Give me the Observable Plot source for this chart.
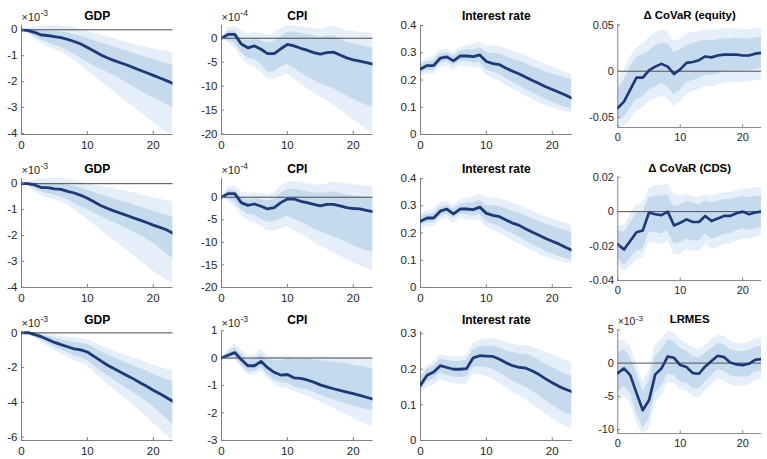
<!DOCTYPE html>
<html><head><meta charset="utf-8">
<script src="https://cdn.jsdelivr.net/npm/d3@7"></script>
<script src="https://cdn.jsdelivr.net/npm/@observablehq/plot@0.6"></script>
<style>
html,body{margin:0;padding:0;background:#fff;overflow:hidden}
#fig{position:relative;width:767px;height:459px;overflow:hidden;background:#fff}
.panel{position:absolute;line-height:0}
.panel svg{display:block;overflow:visible;background:transparent}
</style></head><body><div id="fig"></div>
<script>
const horizon = [0,1,2,3,4,5,6,7,8,9,10,11,12,13,14,15,16,17,18,19,20,21,22,23];
const xTicks = [0,10,20];

// Row 1 — GDP (x10^-3)
const gdp1_mid   = [0,-0.03,-0.1,-0.2,-0.22,-0.26,-0.3,-0.37,-0.45,-0.55,-0.68,-0.82,-0.96,-1.08,-1.18,-1.27,-1.36,-1.46,-1.56,-1.66,-1.76,-1.86,-1.96,-2.07];
const gdp1_inHi  = [0,0,-0.02,-0.05,-0.05,-0.06,-0.08,-0.12,-0.18,-0.25,-0.33,-0.42,-0.5,-0.58,-0.66,-0.74,-0.82,-0.9,-0.98,-1.06,-1.14,-1.22,-1.3,-1.38];
const gdp1_inLo  = [0,-0.1,-0.25,-0.4,-0.5,-0.6,-0.68,-0.8,-0.95,-1.1,-1.25,-1.4,-1.52,-1.64,-1.76,-1.9,-2.05,-2.2,-2.35,-2.5,-2.62,-2.75,-2.88,-3.0];
const gdp1_outHi = [0,0.05,0.1,0.14,0.15,0.16,0.15,0.12,0.08,0.02,-0.05,-0.12,-0.2,-0.28,-0.35,-0.42,-0.5,-0.56,-0.62,-0.68,-0.74,-0.8,-0.84,-0.88];
const gdp1_outLo = [0,-0.15,-0.35,-0.52,-0.65,-0.75,-0.85,-1.0,-1.18,-1.38,-1.58,-1.78,-1.98,-2.18,-2.38,-2.58,-2.78,-2.98,-3.18,-3.38,-3.58,-3.78,-3.95,-4.04];

// Row 1 — CPI (x10^-4)
const cpi1_mid   = [0,0.8,0.8,-1.2,-2.0,-1.6,-2.3,-3.2,-3.2,-2.2,-1.3,-1.6,-2.1,-2.5,-3.0,-3.3,-3.0,-2.9,-3.5,-4.1,-4.5,-4.8,-5.1,-5.4];
const cpi1_inHi  = [0,1.5,1.5,0,-0.5,-0.2,-0.5,-1.0,-0.7,0.3,1.2,1.3,1.0,0.8,0.5,0.2,0.4,0.5,-0.2,-0.8,-1.2,-1.5,-1.8,-2.0];
const cpi1_inLo  = [0,-0.5,-1,-3,-4.2,-4.5,-5.5,-7,-7,-6,-5.5,-6.3,-7.2,-8,-8.8,-9.5,-10,-10.5,-11.3,-12,-12.8,-13.4,-14,-14.4];
const cpi1_outHi = [0,2.2,2.5,1.5,1.0,1.2,1.0,0.5,1.0,2.0,2.6,2.6,2.4,2.2,2.0,1.8,2.2,2.6,2.0,1.6,1.4,1.2,1.2,1.0];
const cpi1_outLo = [0,-1,-2,-4,-5.5,-6,-7,-8.5,-8.5,-8,-7.5,-8.5,-9.5,-10.5,-11.5,-12.3,-13,-14,-15,-16,-17,-18,-19,-20];

// Row 1 — Interest rate
const ir1_mid   = [0.24,0.253,0.253,0.28,0.285,0.27,0.288,0.288,0.286,0.292,0.268,0.26,0.256,0.243,0.232,0.222,0.21,0.198,0.187,0.175,0.165,0.155,0.145,0.133];
const ir1_inHi  = [0.255,0.268,0.27,0.295,0.3,0.288,0.305,0.31,0.31,0.318,0.3,0.298,0.295,0.285,0.277,0.27,0.26,0.25,0.24,0.23,0.222,0.215,0.208,0.2];
const ir1_inLo  = [0.225,0.235,0.235,0.26,0.268,0.252,0.27,0.268,0.262,0.265,0.238,0.228,0.22,0.205,0.192,0.18,0.165,0.152,0.14,0.128,0.118,0.108,0.1,0.093];
const ir1_outHi = [0.265,0.28,0.285,0.308,0.315,0.3,0.318,0.325,0.33,0.34,0.325,0.325,0.325,0.315,0.305,0.298,0.288,0.278,0.268,0.258,0.248,0.238,0.228,0.22];
const ir1_outLo = [0.215,0.222,0.222,0.245,0.252,0.235,0.252,0.25,0.245,0.245,0.218,0.205,0.195,0.18,0.168,0.155,0.14,0.128,0.117,0.106,0.098,0.09,0.085,0.08];

// Row 1 — Delta CoVaR (equity)
const coeq_mid   = [-0.04,-0.033,-0.02,-0.007,-0.007,0.001,0.005,0.008,0.005,-0.003,0.002,0.009,0.01,0.012,0.016,0.015,0.017,0.018,0.018,0.018,0.017,0.017,0.019,0.02];
const coeq_inHi  = [-0.02,-0.01,0.005,0.015,0.018,0.022,0.028,0.03,0.03,0.02,0.023,0.028,0.03,0.032,0.034,0.033,0.034,0.035,0.035,0.036,0.035,0.035,0.036,0.037];
const coeq_inLo  = [-0.053,-0.05,-0.04,-0.03,-0.028,-0.02,-0.017,-0.013,-0.017,-0.025,-0.02,-0.012,-0.01,-0.008,-0.004,-0.005,-0.003,-0.001,0,0,0,0,0.002,0.003];
const coeq_outHi = [-0.01,0.002,0.015,0.025,0.03,0.036,0.042,0.045,0.043,0.032,0.035,0.04,0.042,0.043,0.045,0.044,0.045,0.046,0.046,0.046,0.045,0.045,0.046,0.047];
const coeq_outLo = [-0.061,-0.06,-0.053,-0.043,-0.04,-0.033,-0.03,-0.027,-0.03,-0.038,-0.033,-0.025,-0.022,-0.02,-0.016,-0.017,-0.015,-0.013,-0.012,-0.012,-0.012,-0.012,-0.01,-0.009];

// Row 2 — GDP (x10^-3)
const gdp2_mid   = [0,0,-0.05,-0.15,-0.15,-0.2,-0.22,-0.3,-0.36,-0.45,-0.56,-0.7,-0.84,-0.95,-1.05,-1.14,-1.23,-1.32,-1.41,-1.5,-1.6,-1.69,-1.78,-1.92];
const gdp2_inHi  = [0,0.02,0.03,0,0,-0.02,-0.02,-0.05,-0.1,-0.17,-0.25,-0.33,-0.42,-0.5,-0.58,-0.66,-0.74,-0.82,-0.9,-0.98,-1.06,-1.14,-1.22,-1.3];
const gdp2_inLo  = [0,-0.08,-0.2,-0.32,-0.38,-0.45,-0.52,-0.62,-0.75,-0.88,-1.0,-1.12,-1.25,-1.38,-1.5,-1.62,-1.75,-1.88,-2.0,-2.15,-2.3,-2.5,-2.7,-2.9];
const gdp2_outHi = [0,0.08,0.15,0.18,0.2,0.2,0.2,0.18,0.12,0.06,0,-0.05,-0.1,-0.15,-0.2,-0.25,-0.3,-0.35,-0.42,-0.48,-0.54,-0.6,-0.65,-0.7];
const gdp2_outLo = [0,-0.12,-0.3,-0.45,-0.55,-0.62,-0.7,-0.85,-1.0,-1.18,-1.38,-1.58,-1.78,-1.98,-2.18,-2.38,-2.58,-2.78,-2.98,-3.18,-3.38,-3.55,-3.72,-3.85];

// Row 2 — CPI (x10^-4)
const cpi2_mid   = [0,0.8,0.8,-1.2,-1.8,-1.5,-2.0,-2.6,-2.3,-1.2,-0.4,-0.4,-0.9,-1.2,-1.6,-1.9,-1.6,-1.6,-1.9,-2.3,-2.5,-2.6,-2.9,-3.2];
const cpi2_inHi  = [0,1.5,1.5,0,-0.5,-0.3,-0.5,-0.8,-0.5,0.8,1.7,1.8,1.5,1.2,1.0,0.8,1.0,1.2,0.8,0.5,0.3,0.1,0,-0.1];
const cpi2_inLo  = [0,-0.5,-1,-2.8,-3.8,-4,-4.8,-5.5,-5.5,-4.8,-4.2,-4.8,-5.5,-6.2,-7,-7.7,-8.2,-8.7,-9.3,-10,-10.7,-11.3,-11.8,-12.2];
const cpi2_outHi = [0,2.2,2.5,1.2,0.8,1.0,0.8,0.5,1.0,2.5,3.3,3.5,3.3,3.0,2.8,2.6,3.0,3.4,3.2,3.0,2.8,2.6,2.5,2.3];
const cpi2_outLo = [0,-1,-2,-4,-5.2,-5.5,-6.5,-7.5,-7.5,-7,-6.5,-7.3,-8.2,-9,-10,-10.8,-11.5,-12.3,-13,-13.8,-14.5,-15.2,-15.8,-16.3];

// Row 2 — Interest rate
const ir2_mid   = [0.243,0.255,0.255,0.28,0.288,0.27,0.288,0.288,0.286,0.295,0.272,0.265,0.26,0.248,0.236,0.228,0.215,0.203,0.192,0.18,0.17,0.16,0.148,0.137];
const ir2_inHi  = [0.258,0.27,0.272,0.295,0.302,0.288,0.305,0.31,0.31,0.32,0.302,0.3,0.297,0.288,0.28,0.273,0.263,0.253,0.243,0.233,0.225,0.217,0.21,0.202];
const ir2_inLo  = [0.228,0.238,0.238,0.262,0.27,0.253,0.27,0.268,0.263,0.268,0.242,0.232,0.224,0.21,0.197,0.185,0.17,0.157,0.145,0.133,0.123,0.114,0.106,0.1];
const ir2_outHi = [0.268,0.282,0.287,0.31,0.317,0.302,0.32,0.327,0.332,0.342,0.328,0.328,0.327,0.318,0.308,0.3,0.29,0.28,0.27,0.26,0.252,0.244,0.237,0.231];
const ir2_outLo = [0.215,0.222,0.222,0.246,0.254,0.236,0.253,0.25,0.246,0.247,0.222,0.21,0.2,0.185,0.172,0.16,0.146,0.134,0.122,0.112,0.104,0.097,0.091,0.086];

// Row 2 — Delta CoVaR (CDS)
const cocds_mid   = [-0.019,-0.022,-0.017,-0.012,-0.011,-0.0005,-0.0015,-0.002,0,-0.008,-0.0065,-0.0045,-0.006,-0.006,-0.0025,-0.0055,-0.004,-0.0025,-0.0025,-0.001,0,-0.0015,-0.0005,0];
const cocds_inHi  = [-0.011,-0.012,-0.007,-0.001,0,0.008,0.009,0.009,0.01,0.003,0.004,0.006,0.005,0.004,0.006,0.005,0.006,0.007,0.007,0.008,0.009,0.008,0.009,0.009];
const cocds_inLo  = [-0.027,-0.031,-0.027,-0.023,-0.022,-0.012,-0.012,-0.013,-0.011,-0.019,-0.018,-0.016,-0.017,-0.017,-0.013,-0.016,-0.015,-0.013,-0.013,-0.011,-0.01,-0.011,-0.01,-0.009];
const cocds_outHi = [-0.008,-0.008,-0.002,0.004,0.005,0.013,0.015,0.015,0.016,0.01,0.009,0.01,0.009,0.008,0.01,0.009,0.01,0.011,0.011,0.012,0.013,0.013,0.014,0.014];
const cocds_outLo = [-0.031,-0.035,-0.032,-0.028,-0.027,-0.018,-0.018,-0.019,-0.017,-0.025,-0.025,-0.022,-0.023,-0.023,-0.019,-0.022,-0.021,-0.019,-0.019,-0.017,-0.016,-0.016,-0.015,-0.014];

// Row 3 — GDP (x10^-3)
const gdp3_mid   = [0,0.02,-0.1,-0.22,-0.38,-0.55,-0.68,-0.8,-0.92,-0.98,-1.1,-1.35,-1.6,-1.85,-2.05,-2.25,-2.45,-2.65,-2.87,-3.08,-3.3,-3.5,-3.72,-3.95];
const gdp3_inHi  = [0,0.05,0,-0.1,-0.2,-0.3,-0.4,-0.48,-0.55,-0.58,-0.65,-0.85,-1.05,-1.25,-1.42,-1.58,-1.75,-1.9,-2.05,-2.2,-2.38,-2.52,-2.68,-2.82];
const gdp3_inLo  = [0,-0.02,-0.22,-0.4,-0.6,-0.8,-0.98,-1.15,-1.32,-1.42,-1.58,-1.88,-2.18,-2.48,-2.72,-2.96,-3.2,-3.45,-3.7,-3.95,-4.25,-4.6,-4.95,-5.3];
const gdp3_outHi = [0,0.08,0.05,0,-0.05,-0.12,-0.2,-0.25,-0.3,-0.32,-0.38,-0.55,-0.72,-0.9,-1.05,-1.2,-1.32,-1.45,-1.58,-1.72,-1.86,-2.0,-2.1,-2.2];
const gdp3_outLo = [0,-0.05,-0.3,-0.55,-0.78,-1.0,-1.2,-1.4,-1.6,-1.72,-1.9,-2.25,-2.6,-2.95,-3.25,-3.55,-3.85,-4.15,-4.5,-4.85,-5.2,-5.55,-5.9,-6.2];

// Row 3 — CPI (x10^-3)
const cpi3_mid   = [0,0.1,0.2,-0.05,-0.28,-0.28,-0.12,-0.35,-0.52,-0.62,-0.6,-0.72,-0.74,-0.8,-0.88,-0.98,-1.05,-1.12,-1.18,-1.24,-1.3,-1.36,-1.43,-1.5];
const cpi3_inHi  = [0,0.2,0.38,0.15,-0.05,-0.05,0.12,-0.05,-0.1,-0.1,-0.05,-0.07,-0.05,-0.05,-0.08,-0.1,-0.12,-0.15,-0.18,-0.2,-0.25,-0.3,-0.34,-0.38];
const cpi3_inLo  = [0,0,0.05,-0.25,-0.5,-0.5,-0.35,-0.6,-0.8,-0.9,-0.92,-1.05,-1.1,-1.15,-1.25,-1.35,-1.45,-1.52,-1.6,-1.68,-1.75,-1.82,-1.87,-1.92];
const cpi3_outHi = [0,0.3,0.5,0.3,0.1,0.1,0.3,0.1,0.05,0.05,0.1,0.05,0.05,0.05,0.05,0.05,0.05,0.04,0.03,0.03,0.02,0.01,0,0];
const cpi3_outLo = [0,-0.08,-0.05,-0.35,-0.62,-0.62,-0.5,-0.75,-0.95,-1.08,-1.1,-1.22,-1.3,-1.38,-1.48,-1.6,-1.72,-1.84,-1.96,-2.08,-2.2,-2.32,-2.43,-2.52];

// Row 3 — Interest rate
const ir3_mid   = [0.155,0.183,0.192,0.21,0.205,0.2,0.2,0.202,0.232,0.238,0.237,0.236,0.228,0.218,0.21,0.205,0.203,0.195,0.185,0.173,0.162,0.152,0.144,0.137];
const ir3_inHi  = [0.175,0.2,0.21,0.228,0.225,0.222,0.222,0.225,0.255,0.263,0.265,0.265,0.26,0.252,0.247,0.243,0.242,0.235,0.225,0.215,0.205,0.195,0.187,0.18];
const ir3_inLo  = [0.14,0.165,0.172,0.19,0.183,0.178,0.177,0.178,0.205,0.207,0.205,0.2,0.19,0.178,0.167,0.158,0.15,0.138,0.125,0.112,0.1,0.088,0.078,0.07];
const ir3_outHi = [0.182,0.21,0.22,0.24,0.238,0.235,0.235,0.24,0.272,0.282,0.285,0.285,0.282,0.275,0.27,0.267,0.267,0.262,0.255,0.247,0.24,0.232,0.225,0.22];
const ir3_outLo = [0.13,0.15,0.155,0.17,0.165,0.16,0.158,0.158,0.185,0.185,0.18,0.172,0.16,0.148,0.135,0.125,0.115,0.1,0.088,0.075,0.062,0.05,0.04,0.033];

// Row 3 — LRMES (x10^-3)
const lrmes_mid   = [-1.5,-0.8,-1.8,-4.5,-7.1,-5.6,-1.7,-0.8,1.0,0.8,-0.3,-0.6,-1.5,-1.6,-0.5,0.3,1.1,0.9,0.1,-0.2,-0.3,-0.1,0.5,0.6];
const lrmes_inHi  = [1.5,2.0,1.0,-1.5,-4.2,-2.8,1.0,2.0,3.5,3.2,2.2,1.8,1.0,0.8,1.5,2.2,3.0,2.8,2.0,1.8,1.7,1.9,2.4,2.5];
const lrmes_inLo  = [-4.5,-3.5,-4.5,-7.5,-9.8,-8.5,-4.5,-3.5,-1.7,-1.8,-2.8,-3.0,-3.8,-3.9,-2.8,-1.9,-1.0,-1.2,-1.9,-2.1,-2.1,-2.0,-1.3,-1.2];
const lrmes_outHi = [3.2,3.5,2.5,0,-2.8,-1.2,2.8,3.5,4.8,4.5,3.5,3.0,2.3,2.0,2.7,3.5,4.2,4.0,3.3,3.0,2.9,3.1,3.6,3.7];
const lrmes_outLo = [-6,-5,-6,-9,-10.6,-10,-6,-5,-3,-3,-4,-4.2,-5,-5.2,-4.2,-3.3,-2.4,-2.6,-3.3,-3.5,-3.4,-3.3,-2.6,-2.4];

// Titles, exponent labels, y-axis domains and ticks
const titles = ["GDP","CPI","Interest rate","\u0394 CoVaR (equity)","GDP","CPI","Interest rate","\u0394 CoVaR (CDS)","GDP","CPI","Interest rate","LRMES"];
const exponents = ["-3","-4",null,null,"-3","-4",null,null,"-3","-3",null,"-3"];
const yDomains = [[-4.04,0.166],[-20.1,2.66],[0,0.4],[-0.061,0.051],
                  [-4.01,0.2],[-20,4.15],[0,0.4],[-0.04,0.02],
                  [-6.2,0.08],[-3.01,0.97],[0,0.306],[-10.6,4.96]];
const yTicks = [[-4,-3,-2,-1,0],[-20,-15,-10,-5,0],[0,0.1,0.2,0.3,0.4],[-0.05,0,0.05],
                [-4,-3,-2,-1,0],[-20,-15,-10,-5,0],[0,0.1,0.2,0.3,0.4],[-0.04,-0.02,0,0.02],
                [-6,-4,-2,0],[-3,-2,-1,0,1],[0,0.1,0.2,0.3],[-10,-5,0,5]];
const series = [
  [gdp1_mid,gdp1_inLo,gdp1_inHi,gdp1_outLo,gdp1_outHi],
  [cpi1_mid,cpi1_inLo,cpi1_inHi,cpi1_outLo,cpi1_outHi],
  [ir1_mid,ir1_inLo,ir1_inHi,ir1_outLo,ir1_outHi],
  [coeq_mid,coeq_inLo,coeq_inHi,coeq_outLo,coeq_outHi],
  [gdp2_mid,gdp2_inLo,gdp2_inHi,gdp2_outLo,gdp2_outHi],
  [cpi2_mid,cpi2_inLo,cpi2_inHi,cpi2_outLo,cpi2_outHi],
  [ir2_mid,ir2_inLo,ir2_inHi,ir2_outLo,ir2_outHi],
  [cocds_mid,cocds_inLo,cocds_inHi,cocds_outLo,cocds_outHi],
  [gdp3_mid,gdp3_inLo,gdp3_inHi,gdp3_outLo,gdp3_outHi],
  [cpi3_mid,cpi3_inLo,cpi3_inHi,cpi3_outLo,cpi3_outHi],
  [ir3_mid,ir3_inLo,ir3_inHi,ir3_outLo,ir3_outHi],
  [lrmes_mid,lrmes_inLo,lrmes_inHi,lrmes_outLo,lrmes_outHi]
];

// Layout (pixels)
const colLeft = [21, 220.7, 420, 619.3];
const rowTop = [25, 178, 331];
const rowBottom = [134, 287, 440];
const titleOffset = [-9.5, -9.7, -11];
const plotW = 151.5;
const mL = 34, mR = 6, mT = 26, mB = 22;

const FONT = '"Liberation Sans", Arial, Helvetica, sans-serif';
const C_OUT = "#e5eff9", C_IN = "#c6daee", C_LINE = "#1c3a78", C_AXIS = "#808080", C_ZERO = "#4a4a4a", C_TEXT = "#262626";

const fig = document.getElementById("fig");
const fmt = d => String(d);
const noLabel = () => "";

series.forEach((s, i) => {
  const r = Math.floor(i / 4), c = i % 4;
  const [mid, inLo, inHi, outLo, outHi] = s;
  const rows = horizon.map((h, k) => ({h, mid: mid[k], inLo: inLo[k], inHi: inHi[k], outLo: outLo[k], outHi: outHi[k]}));
  const plotH = rowBottom[r] - rowTop[r];
  const dom = yDomains[i];
  const marks = [
    Plot.areaY(rows, {x: "h", y1: "outLo", y2: "outHi", fill: C_OUT, clip: true}),
    Plot.areaY(rows, {x: "h", y1: "inLo", y2: "inHi", fill: C_IN, clip: true}),
    Plot.ruleY([0], {stroke: C_ZERO, strokeWidth: 1}),
    Plot.ruleX([0], {stroke: C_AXIS, strokeWidth: 1}),
    Plot.ruleY([dom[0]], {stroke: C_AXIS, strokeWidth: 1}),
    Plot.lineY(rows, {x: "h", y: "mid", stroke: C_LINE, strokeWidth: 2.8, strokeLinejoin: "round", clip: true}),
    // inward tick marks (no labels)
    Plot.axisY(yTicks[i], {label: null, tickSize: -3, tickFormat: noLabel, stroke: C_AXIS}),
    Plot.axisX(xTicks, {label: null, tickSize: -3, tickFormat: noLabel, stroke: C_AXIS}),
    // tick labels placed through the scales
    Plot.text(yTicks[i], {y: d => d, text: fmt, frameAnchor: "left", textAnchor: "end", lineAnchor: "middle", dx: -4, fontSize: 11.5, fill: C_TEXT}),
    Plot.text(xTicks, {x: d => d, text: fmt, frameAnchor: "bottom", textAnchor: "middle", lineAnchor: "middle", dy: 11, fontSize: 11.5, fill: C_TEXT}),
    Plot.text([titles[i]], {text: d => d, frameAnchor: "top", lineAnchor: "middle", dy: titleOffset[r], fontWeight: "bold", fontSize: 12, fill: "#000"})
  ];
  if (exponents[i]) {
    marks.push(Plot.text(["\u00d710"], {text: d => d, frameAnchor: "top-left", lineAnchor: "middle", textAnchor: "start", dx: 0, dy: -8.5, fontSize: 11, fill: C_TEXT}));
    marks.push(Plot.text([exponents[i]], {text: d => d, frameAnchor: "top-left", lineAnchor: "middle", textAnchor: "start", dx: 19, dy: -12.5, fontSize: 8.5, fill: C_TEXT}));
  }
  const chart = Plot.plot({
    width: mL + plotW + mR,
    height: mT + plotH + mB,
    marginLeft: mL, marginRight: mR, marginTop: mT, marginBottom: mB,
    x: {domain: [0, 23], axis: null},
    y: {domain: dom, axis: null},
    style: {fontFamily: FONT, fontSize: "11.5px", background: "transparent", overflow: "visible"},
    marks
  });
  const div = document.createElement("div");
  div.className = "panel";
  div.style.left = (colLeft[c] - mL) + "px";
  div.style.top = (rowTop[r] - mT) + "px";
  div.appendChild(chart);
  fig.appendChild(div);
});
</script></body></html>
